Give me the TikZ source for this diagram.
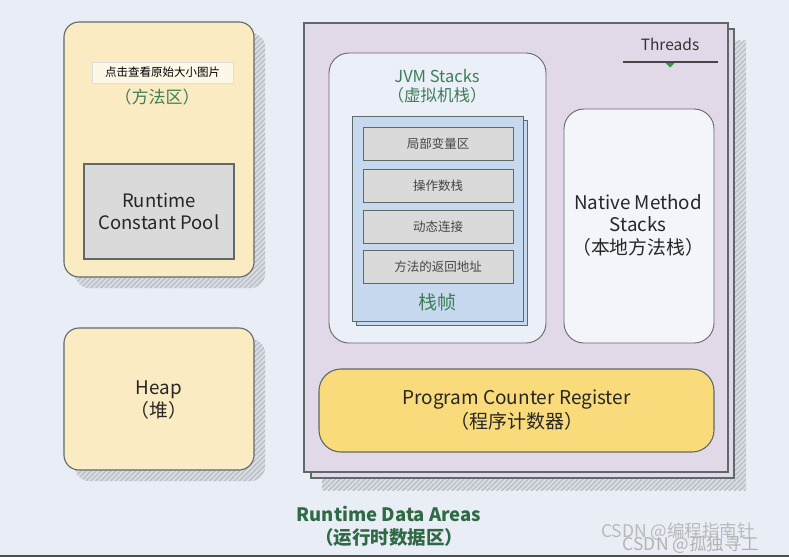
\documentclass[tikz,border=0pt]{standalone}
\usepackage{fontspec}
\setmainfont{Noto Sans CJK SC}
\usetikzlibrary{patterns.meta}
\definecolor{bg}{HTML}{E9EEF6}
\definecolor{edge}{HTML}{5E6A69}
\definecolor{yel}{HTML}{FBEBC2}
\definecolor{purp}{HTML}{E1D9E7}
\definecolor{inner}{HTML}{EBEFF7}
\definecolor{frameblue}{HTML}{C7D9EE}
\definecolor{cellgrey}{HTML}{DADADA}
\definecolor{pcyel}{HTML}{FADB7C}
\definecolor{dgreen}{HTML}{2F6A45}
\definecolor{lgreen}{HTML}{3E7E57}
\definecolor{shadowc}{HTML}{D9DCE2}
\definecolor{hatch}{HTML}{B9BCC2}
\tikzset{
  base/.style={draw=edge, line width=1.1pt},
  yelbox/.style={base, fill=yel, rounded corners=15pt},
  roundbox/.style={base, draw=gray!80!black, line width=0.9pt, fill=inner, rounded corners=20pt},
  greybox/.style={base, fill=cellgrey},
  cellbox/.style={base, line width=1pt, fill=cellgrey, minimum width=150, minimum height=33, inner sep=0pt,
    font=\fontsize{12.5}{14}\selectfont, text=gray!55!black},
  txt/.style={align=center, inner sep=0pt},
  big/.style={txt, font=\fontsize{18.8}{22.5}\selectfont, text=black!85},
  greentxt/.style={txt, text=lgreen},
  shadowpat/.style={pattern={Lines[angle=45,distance=3.5pt,line width=1.2pt]}, pattern color=hatch},
}
\newcommand{\hshadow}[3]{%
  \fill[shadowc, rounded corners=#3] ([shift={(#2,#2)}]#1.north west) rectangle ([shift={(#2,#2)}]#1.south east);
  \fill[shadowpat, rounded corners=#3] ([shift={(#2,#2)}]#1.north west) rectangle ([shift={(#2,#2)}]#1.south east);}
\begin{document}
\begin{tikzpicture}[x=1pt,y=-1pt]
\fill[bg] (0,0) rectangle (789,557);
\useasboundingbox (0,0) rectangle (789,557);
\draw[line width=2pt, gray!60!black] (0,556) -- (789,556);

% ---------- Method area ----------
\path (159,149.5) node[minimum width=190, minimum height=255, inner sep=0pt] (method) {};
\hshadow{method}{11}{15pt}
\node[yelbox, minimum width=190, minimum height=255, inner sep=0pt] (methodbox) at (159,149.5) {};
\node[fill=white!60!yel, draw=gray!25, inner sep=0pt, minimum width=141, minimum height=21,
      font=\fontsize{11.5}{13}\selectfont] (hint) at (162.5,72.5) {点击查看原始大小图片};
\node[greentxt, font=\fontsize{17}{19}\selectfont] (methodlbl) at (157,97) {（方法区）};
\node[greybox, minimum width=150, minimum height=95, inner sep=0pt] (rcp) at (159,211.5) {};
\node[big, font=\fontsize{18.5}{22}\selectfont] (rcplbl) at (159,211) {Runtime\\Constant Pool};

% ---------- Heap ----------
\path (159,399) node[minimum width=190, minimum height=142, inner sep=0pt] (heapsh) {};
\hshadow{heapsh}{11}{15pt}
\node[yelbox, minimum width=190, minimum height=142, inner sep=0pt] (heap) at (159,399) {};
\node[big] (heaplbl) at (159,400) {Heap\\（堆）};

% ---------- Threads (purple) ----------
\path (516,247.5) node[minimum width=424, minimum height=449, inner sep=0pt] (threadsh) {};
\hshadow{threadsh}{18}{0pt}
\node[base, fill=purp, minimum width=423, minimum height=449, inner sep=0pt] (threadback) at (522.5,253.5) {};
\node[base, fill=purp, minimum width=424, minimum height=449, inner sep=0pt] (threads) at (516,247.5) {};
\node[txt, font=\fontsize{15.5}{17}\selectfont, text=black!80] (threadslbl) at (670,44) {Threads};
\coordinate (tl) at (623,62);
\coordinate (tr) at (718,62);
\draw[line width=1.4pt, gray!55!black] (tl) -- (tr);
\fill[lgreen!80!green] (665.5,63) -- (674.5,63) -- (670,67.5) -- cycle;

% ---------- JVM Stacks ----------
\node[roundbox, minimum width=217, minimum height=290, inner sep=0pt] (jvm) at (437.5,198) {};
\node[greentxt, font=\fontsize{16.5}{19}\selectfont] (jvmlbl) at (437,86) {JVM Stacks\\（虚拟机栈）};
\node[base, line width=1pt, fill=frameblue, minimum width=171, minimum height=205, inner sep=0pt] (frameback) at (441.5,223) {};
\node[base, line width=1pt, fill=frameblue, minimum width=171, minimum height=205, inner sep=0pt] (frame) at (437.5,218.5) {};
\node[cellbox] (c1) at (438,144) {局部变量区};
\node[cellbox] (c2) at (438,185.5) {操作数栈};
\node[cellbox] (c3) at (438,226.5) {动态连接};
\node[cellbox] (c4) at (438,267) {方法的返回地址};
\node[greentxt, font=\fontsize{19}{21}\selectfont] (framelbl) at (437,302) {栈帧};

% ---------- Native Method Stacks ----------
\node[roundbox, fill=white!40!inner, minimum width=150, minimum height=234, inner sep=0pt] (native) at (639,226) {};
\node[big] (nativelbl) at (638,225) {Native Method\\Stacks\\（本地方法栈）};

% ---------- PC register ----------
\node[base, fill=pcyel, rounded corners=22pt, minimum width=395, minimum height=83, inner sep=0pt] (pc) at (516.5,410.5) {};
\node[big, font=\fontsize{19}{24}\selectfont] (pclbl) at (516.5,410) {Program Counter Register\\（程序计数器）};

% ---------- Caption ----------
\node[txt, text=dgreen, font=\fontsize{18.5}{23}\bfseries\selectfont] (caption) at (389,526) {Runtime Data Areas\\（运行时数据区）};

% ---------- Watermarks ----------
\node[txt, text=gray!55, font=\fontsize{17.5}{19}\selectfont] (wm1) at (678,532) {CSDN @编程指南针};
\node[txt, text=gray!60, font=\fontsize{17.5}{19}\selectfont] (wm2) at (691,545) {CSDN @孤独寻工};
\end{tikzpicture}
\end{document}
